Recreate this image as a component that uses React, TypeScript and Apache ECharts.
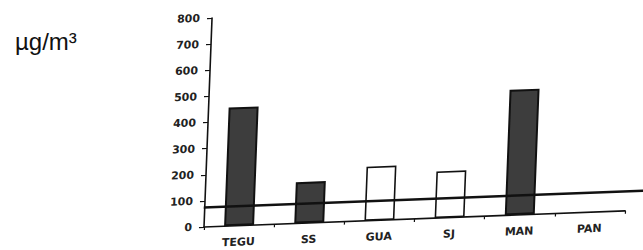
import React, { useEffect, useRef } from "react";
import * as echarts from "echarts";

const categories = ["TEGU", "SS", "GUA", "SJ", "MAN", "PAN"];
const shadedValues = [454, 158, null, null, 481, null];
const openValues = [null, null, 207, 179, null, null];
const guidelineValue = 75;
const yTicks = [0, 100, 200, 300, 400, 500, 600, 700, 800];
const unitLabel = "µg/m³";

export default function App() {
  const chartRef = useRef<HTMLDivElement>(null);
  const labelRef = useRef<HTMLDivElement>(null);

  useEffect(() => {
    const chart = echarts.init(chartRef.current!, null, { renderer: "svg" });
    const axisFont = {
      fontFamily: "DejaVu Sans",
      fontWeight: "bold" as const,
      fontSize: 11,
      color: "#222",
    };
    chart.setOption({
      animation: false,
      grid: [
        { left: 204, right: 18, top: 18, height: 209 },
        { left: 203, right: 0, top: 18, height: 209 },
      ],
      xAxis: [
        {
          type: "category",
          gridIndex: 0,
          data: categories,
          axisLine: { lineStyle: { color: "#111", width: 1.6 } },
          axisTick: { show: true, length: 3, lineStyle: { color: "#111", width: 1.2 } },
          axisLabel: { ...axisFont, margin: 11 },
        },
        { type: "value", gridIndex: 1, min: 0, max: 1, show: false },
      ],
      yAxis: [
        {
          type: "value",
          gridIndex: 0,
          min: yTicks[0],
          max: yTicks[yTicks.length - 1],
          interval: 100,
          axisLine: { show: true, lineStyle: { color: "#111", width: 1.6 } },
          axisTick: { show: true, length: 5, lineStyle: { color: "#111", width: 1.2 } },
          splitLine: { show: false },
          axisLabel: { ...axisFont, margin: 12 },
        },
        {
          type: "value",
          gridIndex: 1,
          min: yTicks[0],
          max: yTicks[yTicks.length - 1],
          show: false,
        },
      ],
      series: [
        {
          type: "bar",
          xAxisIndex: 0,
          yAxisIndex: 0,
          data: shadedValues,
          barWidth: 30,
          barGap: "-100%",
          itemStyle: { color: "#3d3d3d", borderColor: "#111", borderWidth: 2 },
        },
        {
          type: "bar",
          xAxisIndex: 0,
          yAxisIndex: 0,
          data: openValues,
          barWidth: 30,
          barGap: "-100%",
          itemStyle: { color: "#fff", borderColor: "#111", borderWidth: 1.6 },
        },
        {
          type: "line",
          xAxisIndex: 1,
          yAxisIndex: 1,
          data: [],
          z: 10,
          markLine: {
            silent: true,
            symbol: ["none", "none"],
            label: { show: false },
            lineStyle: { color: "#111", width: 2.5, type: "solid" },
            data: [{ yAxis: guidelineValue }],
          },
        },
      ],
    });

    const label = echarts.init(labelRef.current!, null, { renderer: "svg" });
    label.setOption({
      animation: false,
      graphic: [
        {
          type: "text",
          x: 15,
          y: 41,
          style: {
            text: unitLabel,
            fontFamily: "Liberation Sans",
            fontSize: 24,
            fill: "#111",
            verticalAlign: "middle",
          },
        },
      ],
    });

    return () => {
      chart.dispose();
      label.dispose();
    };
  }, []);

  return (
    <div style={{ position: "absolute", left: 0, top: 0, width: 643, height: 250, background: "#fff", overflow: "hidden" }}>
      <div
        ref={chartRef}
        style={{
          position: "absolute",
          left: 0,
          top: 0,
          width: 643,
          height: 250,
          transform: "skew(-2.2deg, -2.2deg)",
          transformOrigin: "204px 227px",
        }}
      />
      <div ref={labelRef} style={{ position: "absolute", left: 0, top: 0, width: 160, height: 80 }} />
    </div>
  );
}
